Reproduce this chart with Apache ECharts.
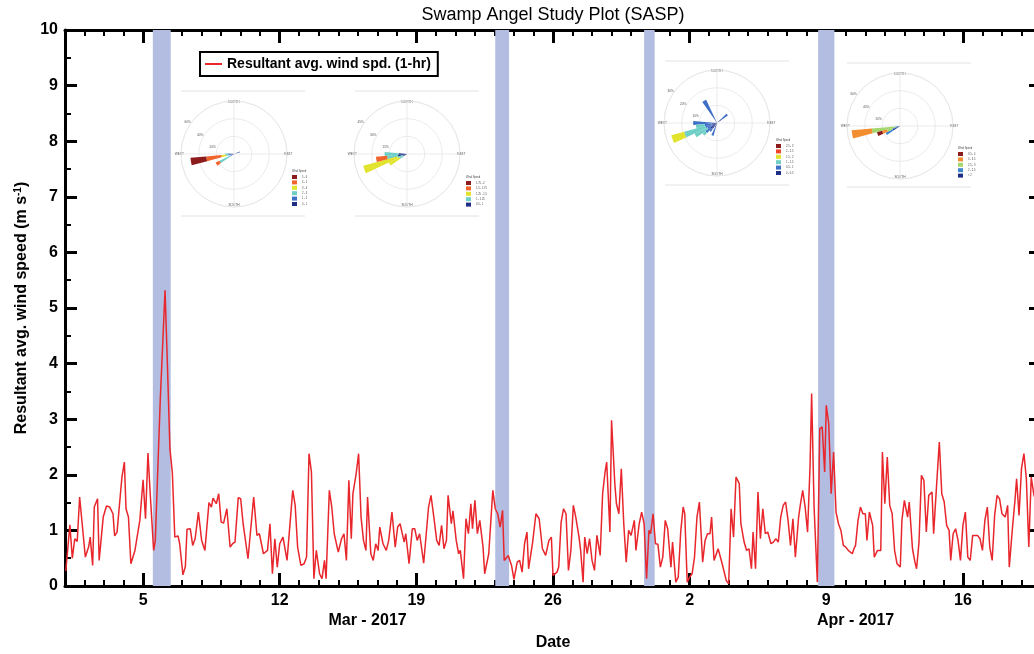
<!DOCTYPE html>
<html><head><meta charset="utf-8">
<script src="https://cdn.jsdelivr.net/npm/echarts@6/dist/echarts.min.js"></script>
<style>html,body{margin:0;padding:0;background:#fff}#c{width:1034px;height:654px}</style>
</head><body><div id="c"></div>
<script>
// ---------- time series (hours since 2017-03-01 00:00, wind speed m/s) ----------
const hours = [1,6,9,12,15,18,25,29,31,34,36,40,42,47,51,55,59,61,64,70,73,75,78,81,86,92,96,99,102,105,109,111,117,123,126,129,132,135,139,141,145,148,150,154,157,160,164,168,172,174,177,180,182,186,189,192,195,199,203,206,209,213,216,219,225,232,236,239,244,249,252,255,258,261,264,268,273,280,283,286,290,294,297,300,303,306,309,313,316,319,321,325,328,331,336,340,343,346,349,352,354,358,361,364,367,370,372,376,379,382,385,387,391,395,398,400,402,406,409,412,417,419,423,427,430,433,436,438,441,447,450,454,457,460,463,466,469,471,475,477,481,484,486,490,493,496,499,501,504,507,510,514,516,521,526,529,532,535,538,540,545,549,552,556,559,562,565,568,570,575,579,583,587,591,595,598,600,605,607,610,613,616,619,622,625,628,632,634,637,639,642,645,648,651,654,658,661,664,666,670,672,676,678,681,684,687,690,693,696,700,702,706,709,712,715,718,720,723,726,729,732,735,738,741,745,747,751,754,757,760,762,765,768,771,774,777,780,784,787,790,793,795,798,803,808,813,816,819,822,825,829,831,835,838,841,844,846,849,852,855,858,861,864,868,871,874,877,880,883,886,889,892,895,898,902,904,907,910,913,916,918,921,925,928,931,934,936,939,942,945,948,951,954,957,960,963,965,968,970,972,975,978,981,984,986,989,993,995,999,1003,1005,1008,1011,1014,1017,1020,1023,1027,1029,1032,1036,1038,1042,1045,1047,1050,1053,1056,1059,1062,1066,1068,1072,1075,1078,1081,1084,1087,1089,1092,1095,1098,1101,1104,1107,1110,1113,1116,1118,1122,1125,1128,1131,1134,1137,1140,1143,1146,1149,1152,1156,1159,1161,1165,1168,1170,1173,1176,1179,1182,1185,1188,1191,1194];
const speeds = [0.27,1.1,0.5,0.85,0.8,1.6,0.52,0.7,0.88,0.37,1.42,1.57,0.46,1.24,1.44,1.42,1.3,0.9,0.97,1.96,2.23,1.39,1.24,0.4,0.64,1.18,1.91,1.21,2.39,1.6,0.64,0.81,3.3,5.32,3.94,2.47,2.03,0.88,0.9,0.76,0.2,0.35,1.02,1.03,0.73,0.85,1.33,0.82,0.64,0.67,1.5,1.42,1.58,1.48,1.66,1.15,1.13,1.39,0.7,0.76,0.79,1.59,1.57,1.12,0.49,1.6,0.91,0.94,0.58,0.64,1.12,0.22,0.85,0.34,0.76,0.88,0.46,1.72,1.45,0.7,0.37,0.4,0.52,2.38,2.05,0.13,0.64,0.22,0.13,0.46,0.13,1.72,1.42,0.94,0.61,0.85,0.94,0.46,1.9,0.85,1.66,2.02,2.38,1.24,0.82,0.64,1.6,0.58,0.46,0.76,0.64,1.06,0.76,0.64,0.82,0.79,1.33,0.7,1.06,1.12,0.79,0.94,0.4,1.03,1.03,0.82,0.94,0.94,0.41,1.42,1.63,1.18,0.82,0.73,1.09,0.67,0.82,1.63,1.12,1.35,0.82,0.58,0.64,0.13,1.21,0.94,1.48,1.03,1.54,0.94,1.18,0.7,0.22,0.58,1.72,1.39,1.3,1.06,1.36,0.46,0.55,0.37,0.12,0.43,0.46,0.25,0.76,0.97,0.31,0.79,1.3,1.21,0.67,0.55,0.82,0.88,0.19,0.25,0.34,1.15,1.39,1.3,0.28,0.64,1.45,1.24,0.88,0.64,0.07,0.88,0.58,0.85,0.46,0.28,0.91,0.55,1.66,2.05,2.23,0.97,2.98,1.84,1.48,1.3,2.11,1.12,0.43,1.0,0.91,1.18,0.64,1.12,1.33,1.12,0.13,1.0,0.94,1.3,0.76,0.75,0.34,0.52,1.18,1.03,0.34,0.79,0.07,0.16,0.97,1.42,1.3,0.07,0.16,0.22,0.52,1.24,1.51,0.43,0.82,0.94,0.94,1.24,0.46,0.67,0.4,0.1,0.04,1.39,0.88,1.96,1.84,1.12,0.79,0.64,0.67,0.31,0.97,0.31,1.69,0.85,1.39,0.94,0.97,0.76,0.79,0.85,0.79,1.24,1.45,1.51,1.18,0.73,1.21,0.52,1.24,1.45,1.72,1.42,0.97,2.14,3.46,1.42,0.07,2.83,2.86,2.05,3.25,2.92,1.66,2.41,1.33,1.12,1.0,0.73,0.7,0.64,0.67,0.58,0.67,0.73,1.18,1.42,1.3,1.3,0.82,1.33,1.09,0.52,0.64,0.64,2.41,1.48,2.32,1.45,1.3,0.64,0.4,0.34,1.18,1.54,1.24,1.51,0.67,0.43,0.31,0.79,1.99,1.9,0.97,1.63,1.69,0.94,1.9,2.59,1.66,1.51,1.09,1.0,0.46,0.94,1.03,0.82,0.46,1.09,1.33,0.52,0.46,0.91,0.88,0.91,0.85,0.64,1.18,1.42,0.7,0.46,1.27,1.63,1.57,1.3,1.24,1.45,0.34,1.06,1.54,1.93,1.27,2.11,2.38,1.93,0.7,1.96,1.66,1.5];

// shaded periods (hours since 2017-03-01 00:00)
const bandStartHours = [108, 529, 712, 926];
const bandEndHours = [130, 546, 725, 946];

// x axis ticks
const majorTickHours = [96, 264, 432, 600, 768, 936, 1104];
const majorTickLabels = ['5', '12', '19', '26', '2', '9', '16'];
const monthHours = [372, 972];
const monthLabels = ['Mar - 2017', 'Apr - 2017'];

// ---------- wind-rose insets: bearings (deg) and % per speed bin ----------
const rose1Dirs = [240, 260, 270, 70];
const rose1Values = [
  [2, 3, 3, 5],
  [3, 3.5, 4, 2],
  [13, 2.5, 3, 0],
  [0, 5.5, 0, 0],
  [5, 17, 0, 0],
  [0, 18, 0, 0]
];
const rose1Labels = ['0 - 1', '1 - 2', '2 - 3', '3 - 4', '4 - 5', '5 - 6'];
const rose1Ticks = [20, 60];

const rose2Dirs = [240, 250, 260, 270];
const rose2Values = [
  [3, 4, 8, 7],
  [4, 4.5, 9, 12],
  [10, 30, 0, 0],
  [0, 0, 9.5, 0],
  [0, 0, 0, 0]
];
const rose2Labels = ['0.5 - 1', '1 - 1.25', '1.25 - 1.5', '1.5 - 1.75', '1.75 - 2'];
const rose2Ticks = [15, 45];

const rose3Dirs = [50, 200, 220, 230, 240, 250, 260, 270, 330];
const rose3Values = [
  [3, 2.5, 4, 5, 3, 2.8, 3, 2, 1.5],
  [4.5, 5, 2, 3, 3, 4, 4, 11.5, 13],
  [0, 0, 0, 2, 8, 12.5, 5, 0, 0],
  [0, 0, 0, 0, 0, 7.5, 0, 0, 0],
  [0, 0, 0, 0, 0, 0, 0, 0, 0],
  [0, 0, 0, 0, 0, 0, 0, 0, 0]
];
const rose3Labels = ['0 - 0.5', '0.5 - 1', '1 - 1.5', '1.5 - 2', '2 - 2.5', '2.5 - 3'];
const rose3Ticks = [10, 30];

const rose4Dirs = [240, 250, 260];
const rose4Values = [
  [9, 4, 2],
  [9, 5, 3],
  [0, 6, 27],
  [0, 6, 23],
  [0, 6, 0]
];
const rose4Labels = ['< 2', '2 - 2.5', '2.5 - 3', '3 - 3.5', '3.5 - 4'];
const rose4Ticks = [20, 60];

const compassNames = ['NORTH', 'EAST', 'SOUTH', 'WEST'];

// ---------- build ----------
const FONT = 'Liberation Sans';
const RED = '#e8262c';
const roseBearings = Array.from({length: 36}, (_, i) => (i * 10 + 320) % 360);
const roseDefs = [
  {dirs: rose1Dirs, values: rose1Values, labels: rose1Labels, ticks: rose1Ticks,
   colors: ['#1f2f86', '#3f6fc6', '#6fcfc6', '#e2e32c', '#f1652c', '#8c1c1c'],
   center: [234, 154], legend: [292, 175, 170], frame: [181, 305, 91, 216]},
  {dirs: rose2Dirs, values: rose2Values, labels: rose2Labels, ticks: rose2Ticks,
   colors: ['#1f2f86', '#6fcfc6', '#e2e32c', '#f1652c', '#8c1c1c'],
   center: [407, 154], legend: [466, 181, 176], frame: [355, 479, 91, 216]},
  {dirs: rose3Dirs, values: rose3Values, labels: rose3Labels, ticks: rose3Ticks,
   colors: ['#1f2f86', '#3f6fc6', '#6fcfc6', '#e2e32c', '#f1452c', '#8c1c1c'],
   center: [717, 123], legend: [776, 144, 139], frame: [665, 789, 61, 185]},
  {dirs: rose4Dirs, values: rose4Values, labels: rose4Labels, ticks: rose4Ticks,
   colors: ['#1f2f86', '#3f86d0', '#a3d66c', '#f38e30', '#8c1c1c'],
   center: [900, 126], legend: [958, 152, 147], frame: [847, 971, 63, 187]}
];

const lineData = hours.map((h, i) => [h, speeds[i]]);
const bandData = bandStartHours.map((s, i) => [{xAxis: s}, {xAxis: bandEndHours[i]}]);

const polar = [], angleAxis = [], radiusAxis = [], series = [], legends = [], titles = [], graphics = [];
const labelMap = {};
const GRID_GRAY = '#e6e6e6';

roseDefs.forEach((r, k) => {
  polar.push({center: r.center, radius: 53});
  angleAxis.push({polarIndex: k, type: 'category', data: roseBearings, startAngle: 135, clockwise: true,
    axisLine: {show: true, lineStyle: {color: GRID_GRAY, width: 0.8}}, axisTick: {show: false},
    axisLabel: {show: false}, splitLine: {show: false}});
  radiusAxis.push({polarIndex: k, type: 'value', min: 0, max: r.ticks[1], interval: r.ticks[0],
    axisLine: {show: false}, axisTick: {show: false},
    axisLabel: {fontSize: 3.2, color: '#555', fontFamily: FONT, formatter: v => v ? v + '%' : ''},
    splitLine: {show: true, lineStyle: {color: GRID_GRAY, width: 0.8}}});
  const names = [];
  r.values.forEach((row, b) => {
    const data = new Array(36).fill(0);
    r.dirs.forEach((d, j) => { data[roseBearings.indexOf(d)] = row[j]; });
    const nm = 'rose' + k + '_' + b;
    labelMap[nm] = r.labels[b];
    names.push(nm);
    series.push({type: 'bar', coordinateSystem: 'polar', polarIndex: k, stack: 'rose' + k, name: nm,
      data, itemStyle: {color: r.colors[b]}, barCategoryGap: '0%', silent: true});
  });
  legends.push({data: names.slice().reverse(), orient: 'vertical', left: r.legend[0], top: r.legend[1],
    itemWidth: 5, itemHeight: 4, itemGap: 1.4, padding: 0, icon: 'rect', selectedMode: false,
    textStyle: {fontSize: 2.6, color: '#444', fontFamily: FONT}, formatter: n => labelMap[n]});
  titles.push({text: 'Wind Speed', left: r.legend[0], top: r.legend[2], padding: 0,
    textStyle: {fontSize: 2.6, fontWeight: 'normal', color: '#444', fontFamily: FONT}});
  graphics.push({type: 'line', silent: true, shape: {x1: r.frame[0], y1: r.frame[2], x2: r.frame[1], y2: r.frame[2]}, style: {stroke: '#e2e2e2', lineWidth: 1}});
  graphics.push({type: 'line', silent: true, shape: {x1: r.frame[0], y1: r.frame[3], x2: r.frame[1], y2: r.frame[3]}, style: {stroke: '#e2e2e2', lineWidth: 1}});
});
// compass cross-hairs & N/E/S/W labels
roseDefs.forEach((r, k) => {
  polar.push({center: r.center, radius: 53});
  angleAxis.push({polarIndex: 4 + k, type: 'value', min: 0, max: 360, interval: 90, startAngle: 90, clockwise: true,
    axisLine: {show: false}, axisTick: {show: false},
    axisLabel: {fontSize: 3.2, color: '#555', fontFamily: FONT, margin: -3,
      formatter: v => (v % 90 === 0 && v < 360) ? compassNames[v / 90] : ''},
    splitLine: {show: true, lineStyle: {color: GRID_GRAY, width: 0.8}}});
  radiusAxis.push({polarIndex: 4 + k, type: 'value', min: 0, max: 1, show: false});
});

series.unshift({
  type: 'line', name: 'Resultant avg. wind spd. (1-hr)', xAxisIndex: 0, yAxisIndex: 0,
  data: lineData, symbol: 'none', showSymbol: false, lineStyle: {color: RED, width: 1.5}, itemStyle: {color: RED},
  markArea: {silent: true, itemStyle: {color: '#b2bde1', opacity: 1}, data: bandData}
});

const boldTxt = {fontSize: 16, fontWeight: 'bold', color: '#000', fontFamily: FONT};
const axisLineStyle = {color: '#000', width: 3};
const baseX = {type: 'value', gridIndex: 0, min: 0, max: 1200, splitLine: {show: false}};
const xAxis = [
  Object.assign({}, baseX, {position: 'bottom', interval: 24,
    axisLine: {show: true, onZero: false, lineStyle: axisLineStyle},
    axisTick: {show: true, inside: true, length: 6, lineStyle: {color: '#000', width: 2}},
    axisLabel: {show: false},
    name: 'Date', nameLocation: 'middle', nameGap: 49, nameTextStyle: boldTxt}),
  Object.assign({}, baseX, {position: 'bottom',
    axisLine: {show: false, onZero: false},
    axisTick: {show: true, inside: true, length: 13, customValues: majorTickHours, lineStyle: {color: '#000', width: 3}},
    axisLabel: Object.assign({customValues: majorTickHours, margin: 7,
      formatter: v => majorTickLabels[majorTickHours.indexOf(v)] || ''}, boldTxt)}),
  Object.assign({}, baseX, {position: 'bottom',
    axisLine: {show: false, onZero: false}, axisTick: {show: false},
    axisLabel: Object.assign({customValues: monthHours, margin: 27,
      formatter: v => monthLabels[monthHours.indexOf(v)] || ''}, boldTxt)}),
  Object.assign({}, baseX, {position: 'top', interval: 24,
    axisLine: {show: true, onZero: false, lineStyle: axisLineStyle},
    axisTick: {show: true, inside: true, length: 6, lineStyle: {color: '#000', width: 2}},
    axisLabel: {show: false}}),
  Object.assign({}, baseX, {position: 'top',
    axisLine: {show: false, onZero: false},
    axisTick: {show: true, inside: true, length: 13, customValues: majorTickHours, lineStyle: {color: '#000', width: 3}},
    axisLabel: {show: false, customValues: majorTickHours}})
];
const baseY = {type: 'value', gridIndex: 0, min: 0, max: 10, interval: 1, splitLine: {show: false},
  axisLine: {show: true, onZero: false, lineStyle: axisLineStyle},
  axisTick: {show: true, inside: true, length: 12, lineStyle: {color: '#000', width: 3}},
  minorTick: {show: true, splitNumber: 2, length: 6, lineStyle: {color: '#000', width: 2}},
  minorSplitLine: {show: false}};
const yAxis = [
  Object.assign({}, baseY, {position: 'left',
    axisLabel: Object.assign({margin: 7}, boldTxt),
    name: 'Resultant avg. wind speed (m s{sup|-1})', nameLocation: 'middle', nameGap: 35,
    nameTextStyle: Object.assign({rich: {sup: {fontSize: 10, fontWeight: 'bold', color: '#000', fontFamily: FONT, verticalAlign: 'top', lineHeight: 10}}}, boldTxt)}),
  Object.assign({}, baseY, {position: 'right', axisLabel: {show: false}})
];

legends.unshift({
  data: [{name: 'Resultant avg. wind spd. (1-hr)', icon: 'rect'}], left: 200, top: 52, orient: 'horizontal',
  backgroundColor: '#fff', borderColor: '#000', borderWidth: 2, borderRadius: 0,
  padding: [5, 7, 5, 5], itemWidth: 17, itemHeight: 2, selectedMode: false,
  itemStyle: {color: RED, borderWidth: 0},
  textStyle: {fontSize: 14, fontWeight: 'bold', color: '#000', fontFamily: FONT}
});
titles.unshift({
  text: 'Swamp Angel Study Plot (SASP)', left: 553, top: 6, textAlign: 'center', padding: 0,
  textStyle: {fontSize: 18, fontWeight: 'normal', color: '#000', fontFamily: FONT}
});

const chart = echarts.init(document.getElementById('c'), null, {renderer: 'canvas'});
chart.setOption({
  animation: false,
  backgroundColor: '#fff',
  textStyle: {fontFamily: FONT},
  title: titles,
  legend: legends,
  grid: {left: 65, right: -7, top: 30, bottom: 68, containLabel: false, outerBoundsMode: 'none'},
  xAxis, yAxis,
  polar, angleAxis, radiusAxis,
  graphic: graphics,
  series
});
</script></body></html>
